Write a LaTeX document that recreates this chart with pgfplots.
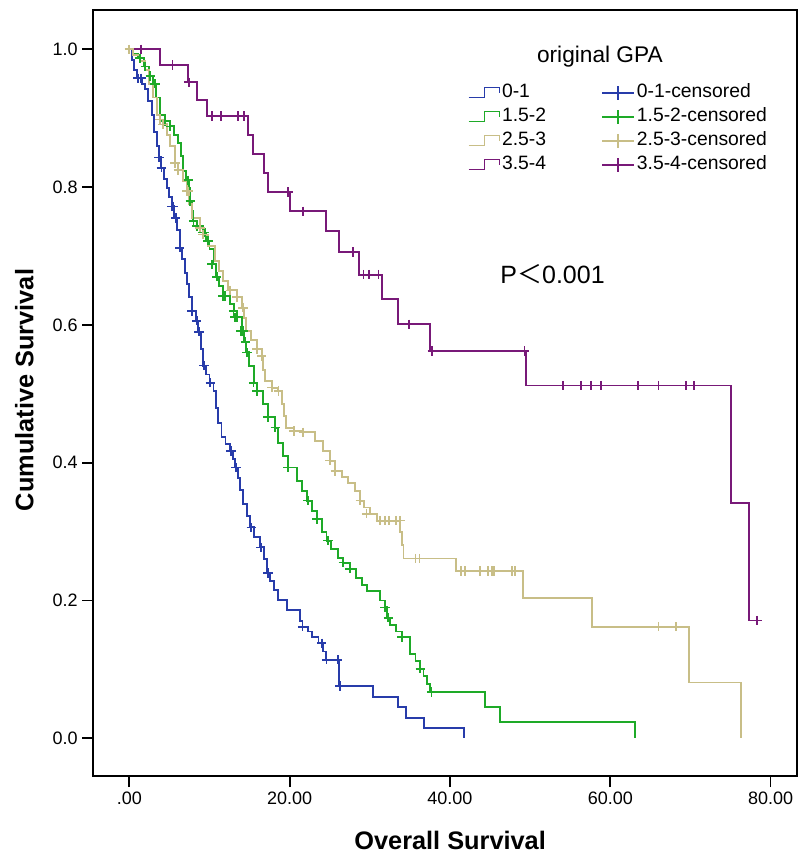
\documentclass[border=0pt]{standalone}
\usepackage{pgfplots}
\pgfplotsset{compat=1.18}
\usepackage{fontspec}
\setmainfont{Liberation Sans}
\newfontfamily\cjk{Noto Sans CJK SC}

\definecolor{cBlue}{RGB}{40,60,170}
\definecolor{cGreen}{RGB}{30,170,40}
\definecolor{cTan}{RGB}{200,190,135}
\definecolor{cPurple}{RGB}{120,25,120}

\pgfplotsset{
  km/.style={const plot, line width=1.45pt, mark=none,
    legend image code/.code={\draw[line width=1.1pt] (0pt,-3.5pt) -- (12pt,-3.5pt) -- (12pt,4pt) -- (23pt,4pt) -- (23pt,0pt);}},
  cens/.style={only marks, mark=+, mark size=3.5pt, mark options={line width=1.3pt},
    legend image code/.code={\draw[line width=1.1pt] (0pt,0pt) -- (24pt,0pt) (12pt,-5pt) -- (12pt,5pt);}},
}

\begin{document}
\begin{tikzpicture}
\begin{axis}[
  name=ax,
  scale only axis,
  width=527.8pt, height=574.5pt,
  xmin=-4.49, xmax=83.3, ymin=-0.0547, ymax=1.057,
  axis line style={line width=1.6pt},
  xtick={0,20,40,60,80}, xticklabels={.00,20.00,40.00,60.00,80.00},
  ytick={0,0.2,0.4,0.6,0.8,1.0}, yticklabels={0.0,0.2,0.4,0.6,0.8,1.0},
  tick align=outside, xtick pos=bottom, ytick pos=left,
  major tick length=8.25pt,
  tick style={black, line width=1.3pt},
  tick label style={font=\fontsize{13.5}{16}\selectfont},
  xlabel={Overall Survival}, ylabel={Cumulative Survival},
  label style={font=\fontsize{19}{22}\selectfont\bfseries},
  xlabel style={at={(axis description cs:0.507,-0.0953)}, anchor=base},
  ylabel style={at={(axis description cs:-0.0853,0.504)}, anchor=base},
  legend columns=2,
  legend cell align=left,
  legend style={at={(axis cs:42.2,0.9525)}, anchor=north west, draw=none, fill=none,
    inner sep=0pt, font=\fontsize{14.5}{17}\selectfont,
    nodes={inner sep=1.5pt, text height=10pt, text depth=3pt},
    row sep=2pt,
    /tikz/every even column/.append style={column sep=40pt}},
]
% 0-1
\addplot[km, cBlue] coordinates {
 (0,1.0) (0.3,0.985) (0.6,0.97) (0.9,0.958) (1.6,0.95) (1.95,0.942) (2.3,0.925)
 (2.8,0.905) (3.1,0.88) (3.4,0.859) (3.7,0.843) (4.0,0.828) (4.3,0.812) (4.65,0.799)
 (5.0,0.785) (5.3,0.772) (5.6,0.755) (5.9,0.738) (6.3,0.712) (6.6,0.695) (6.9,0.675)
 (7.15,0.659) (7.5,0.64) (7.8,0.62) (8.3,0.606) (8.6,0.59) (8.9,0.565) (9.2,0.541)
 (9.6,0.528) (10.0,0.516) (10.5,0.504) (10.8,0.48) (11.1,0.458) (11.5,0.437)
 (12.0,0.427) (12.6,0.417) (12.9,0.405) (13.2,0.393) (13.5,0.378) (13.8,0.36)
 (14.2,0.34) (14.7,0.322) (15.1,0.306) (15.6,0.292) (16.3,0.277) (16.8,0.26)
 (17.2,0.24) (17.6,0.228) (18.0,0.215) (18.6,0.201) (19.7,0.186) (21.3,0.17)
 (21.6,0.162) (22.3,0.155) (22.8,0.147) (23.6,0.138) (24.2,0.126) (24.5,0.114)
 (26.2,0.076) (30.4,0.060) (33.5,0.045) (34.5,0.030) (36.8,0.015) (41.8,0)
};
\addlegendentry{0-1}
\addplot[cens, cBlue] coordinates {
 (1.1,0.958) (1.5,0.958) (3.7,0.843) (4.0,0.828) (5.3,0.772) (5.5,0.772) (5.8,0.755)
 (6.3,0.712) (7.8,0.62) (8.4,0.606) (8.7,0.59) (9.3,0.541) (10.1,0.516) (12.7,0.417)
 (13.3,0.393) (15.2,0.306) (16.4,0.277) (17.3,0.24) (21.6,0.162) (24.0,0.138)
 (24.6,0.114) (26.0,0.114) (26.3,0.076)
};
\addlegendentry{0-1-censored}
% 1.5-2
\addplot[km, cGreen] coordinates {
 (0,1.0) (0.5,0.993) (1.1,0.987) (1.8,0.975) (2.4,0.961) (2.9,0.95) (3.3,0.93)
 (3.8,0.905) (4.45,0.896) (5.1,0.888) (5.6,0.876) (6.1,0.864) (6.4,0.845) (6.7,0.823)
 (7.1,0.81) (7.4,0.799) (7.6,0.78) (7.8,0.765) (8.0,0.751) (8.4,0.743) (9.2,0.734)
 (9.6,0.722) (10.0,0.71) (10.5,0.688) (10.8,0.67) (11.2,0.657) (11.7,0.642)
 (12.6,0.63) (13.0,0.62) (13.4,0.611) (14.0,0.591) (14.3,0.575) (14.6,0.56)
 (14.9,0.541) (15.5,0.516) (15.9,0.504) (16.7,0.485) (17.3,0.466) (18.2,0.451)
 (18.6,0.429) (19.2,0.41) (19.8,0.393) (20.9,0.374) (21.5,0.359) (22.2,0.345)
 (22.8,0.330) (23.4,0.318) (24.0,0.30) (24.6,0.287) (25.2,0.275) (26.0,0.262)
 (26.7,0.255) (27.5,0.246) (28.3,0.232) (29.0,0.222) (29.6,0.214) (31.3,0.20)
 (31.9,0.19) (32.2,0.175) (32.5,0.164) (33.3,0.155) (34.0,0.147) (35.0,0.123)
 (35.7,0.112) (36.3,0.101) (36.7,0.09) (37.1,0.079) (37.5,0.067) (44.4,0.045)
 (46.2,0.023) (63.1,0)
};
\addlegendentry{1.5-2}
\addplot[cens, cGreen] coordinates {
 (1.3,0.987) (2.0,0.975) (2.6,0.961) (3.2,0.95) (4.45,0.896) (5.1,0.888) (7.35,0.81)
 (7.6,0.78) (8.0,0.751) (8.4,0.743) (9.2,0.734) (9.4,0.734) (9.8,0.722) (10.3,0.688)
 (10.9,0.67) (11.7,0.642) (11.9,0.642) (13.0,0.62) (13.2,0.611) (13.4,0.611)
 (13.9,0.591) (14.2,0.591) (14.5,0.575) (14.7,0.56) (15.5,0.516) (15.9,0.504)
 (17.3,0.466) (18.2,0.451) (19.8,0.393) (22.3,0.345) (23.4,0.318) (24.8,0.287)
 (26.7,0.255) (27.5,0.246) (31.9,0.19) (32.3,0.175) (34.0,0.147) (36.3,0.101)
 (37.7,0.067)
};
\addlegendentry{1.5-2-censored}
% 2.5-3
\addplot[km, cTan] coordinates {
 (0,1.0) (0.5,0.992) (1.3,0.983) (2.0,0.970) (2.4,0.949) (2.9,0.93) (3.4,0.905)
 (3.8,0.898) (4.2,0.891) (4.7,0.875) (5.1,0.859) (5.7,0.835) (6.1,0.825) (6.7,0.809)
 (7.2,0.794) (7.5,0.775) (7.8,0.755) (8.8,0.741) (9.2,0.731) (9.85,0.714) (10.7,0.693)
 (11.2,0.678) (11.7,0.664) (12.3,0.650) (13.4,0.640) (14.0,0.625) (14.3,0.61)
 (14.6,0.591) (15.2,0.578) (15.9,0.565) (16.5,0.555) (16.7,0.535) (16.9,0.519)
 (17.8,0.509) (18.6,0.504) (19.0,0.485) (19.3,0.468) (19.6,0.451) (20.5,0.446)
 (21.7,0.444) (23.2,0.432) (24.2,0.417) (25.0,0.403) (25.7,0.388) (26.5,0.379)
 (27.3,0.37) (28.2,0.359) (28.8,0.345) (29.3,0.335) (30.0,0.326) (30.9,0.316)
 (33.8,0.300) (34.0,0.28) (34.2,0.261) (40.8,0.243) (49.1,0.203) (57.7,0.162)
 (69.8,0.081) (76.3,0)
};
\addlegendentry{2.5-3}
\addplot[cens, cTan] coordinates {
 (0,1.0) (3.8,0.898) (4.2,0.891) (5.7,0.835) (6.1,0.825) (7.2,0.794) (7.35,0.794)
 (8.8,0.741) (9.2,0.731) (12.6,0.650) (13.4,0.640) (14.2,0.625) (15.9,0.565)
 (16.5,0.555) (17.8,0.509) (18.6,0.504) (20.5,0.446) (21.7,0.444) (25.0,0.403)
 (25.7,0.388) (28.8,0.345) (29.6,0.326) (31.3,0.316) (31.9,0.316) (32.4,0.316)
 (33.3,0.316) (33.8,0.316) (35.7,0.261) (36.2,0.261) (41.4,0.243) (41.9,0.243)
 (43.7,0.243) (44.7,0.243) (45.2,0.243) (45.5,0.243) (47.7,0.243) (48.1,0.243)
 (66.0,0.162) (68.2,0.162)
};
\addlegendentry{2.5-3-censored}
% 3.5-4
\addplot[km, cPurple] coordinates {
 (0,1.0) (3.8,0.977) (7.35,0.952) (8.4,0.927) (9.7,0.903) (14.85,0.876) (15.4,0.848)
 (16.8,0.821) (17.3,0.793) (20.0,0.765) (24.5,0.736) (26.1,0.706) (28.7,0.673)
 (31.5,0.637) (33.5,0.601) (37.5,0.562) (49.5,0.512) (75.0,0.341) (77.3,0.171)
 (78.3,0.171)
};
\addlegendentry{3.5-4}
\addplot[cens, cPurple] coordinates {
 (1.5,1.0) (5.4,0.977) (7.4,0.952) (10.3,0.903) (11.4,0.903) (13.6,0.903) (14.3,0.903)
 (19.8,0.793) (21.7,0.765) (27.9,0.706) (29.2,0.673) (29.9,0.673) (31.1,0.673)
 (34.9,0.601) (37.8,0.562) (49.3,0.562) (54.1,0.512) (56.3,0.512) (57.6,0.512)
 (58.8,0.512) (63.5,0.512) (66.0,0.512) (69.4,0.512) (70.4,0.512) (78.3,0.171)
};
\addlegendentry{3.5-4-censored}

\node[font=\fontsize{17}{20}\selectfont] at (axis cs:58.7,0.990) {original GPA};
\node[font=\fontsize{18.75}{22}\selectfont] at (axis cs:52.8,0.674) {P{\cjk ＜}0.001};
\end{axis}
\pgfresetboundingbox
\path[use as bounding box] ([xshift=-70pt,yshift=-57.75pt]ax.south west) rectangle ([yshift=7.5pt]ax.north east);
\end{tikzpicture}
\end{document}
